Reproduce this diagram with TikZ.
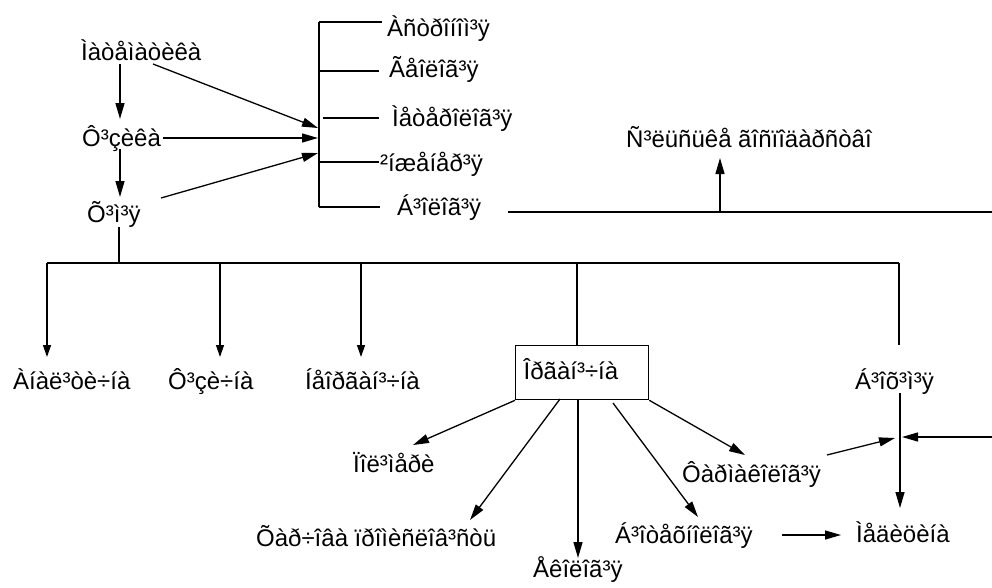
\documentclass[tikz,border=0pt]{standalone}
\usepackage{fontspec}
\setmainfont{Liberation Sans}
\usetikzlibrary{arrows.meta}
\begin{document}
\begin{tikzpicture}[x=1pt,y=-1pt,
  lbl/.style={anchor=base west,inner sep=0pt,font=\fontsize{24}{28}\selectfont},
  ln/.style={line width=1.3pt},
  arr/.style={line width=1.3pt,-{Triangle[length=16pt,width=9pt]}},
  arrs/.style={line width=1.3pt,-{Triangle[length=12pt,width=8pt]}},
  boxnode/.style={draw,line width=1.3pt,anchor=north west,minimum width=133pt,minimum height=54pt,
    text width=117pt,inner xsep=8pt,inner ysep=0pt,align=left,text height=16pt,text depth=2pt,
    font=\fontsize{24}{28}\selectfont}]
\useasboundingbox (0,0) rectangle (992,587);
% labels
\node[lbl] (mat)   at (81,60)   {Ìàòåìàòèêà};
\node[lbl] (fiz)   at (82,146)  {Ô³çèêà};
\node[lbl] (him)   at (87,222)  {Õ³ì³ÿ};
\node[lbl] (astr)  at (387,36)  {Àñòðîíîì³ÿ};
\node[lbl] (geol)  at (389,77)  {Ãåîëîã³ÿ};
\node[lbl] (met)   at (392,126) {Ìåòåðîëîã³ÿ};
\node[lbl] (inzh)  at (380,171) {²íæåíåð³ÿ};
\node[lbl] (biol)  at (397,215) {Á³îëîã³ÿ};
\node[lbl] (silg)  at (626,147) {Ñ³ëüñüêå ãîñïîäàðñòâî};
\node[lbl] (anal)  at (13,389)  {Àíàë³òè÷íà};
\node[lbl] (fizch) at (168,389) {Ô³çè÷íà};
\node[lbl] (neorg) at (305,389) {Íåîðãàí³÷íà};
\node[boxnode] (org) at (515,345) {Îðãàí³÷íà};
\node[lbl] (bioh)  at (855,389) {Á³îõ³ì³ÿ};
\node[lbl] (pol)   at (353,472) {Ïîë³ìåðè};
\node[lbl] (harch) at (256,546) {Õàð÷îâà ïðîìèñëîâ³ñòü};
\node[lbl] (ekol)  at (533,577) {Åêîëîã³ÿ};
\node[lbl] (biot)  at (615,543) {Á³îòåõíîëîã³ÿ};
\node[lbl] (farm)  at (682,482) {Ôàðìàêîëîã³ÿ};
\node[lbl] (med)   at (856,542) {Ìåäèöèíà};
% coordinates
\coordinate (brT) at (319,22);
\coordinate (brB) at (319,207);
\coordinate (brA) at (318,128);
\coordinate (brF) at (318,138);
\coordinate (brH) at (318,153);
\coordinate (busL) at (47,263);
\coordinate (busH) at (119,263);
\coordinate (busF) at (220,263);
\coordinate (busN) at (361,263);
\coordinate (busO) at (577,263);
\coordinate (busR) at (899,263);
\coordinate (rEdge) at (992,437);
\coordinate (sgL) at (508,212);
\coordinate (sgR) at (992,212);
\coordinate (sgA) at (720,212);
% bracket
\draw[ln] (brT) -- (brB);
\draw[ln] (brT) -- (382,22);
\draw[ln] (319,71) -- (379,71);
\draw[ln] (323,118) -- (379,118);
\draw[ln] (319,162) -- (379,162);
\draw[ln] (brB) -- (380,207);
% arrows into bracket
\draw[arr] (153,64) -- (brA);
\draw[arr] (163,138) -- (brF);
\draw[arr] (161,198) -- (brH);
% vertical chain
\draw[arr] (120,64) -- (120,119);
\draw[arr] (120,149) -- (120,197);
\draw[ln] (119,227) -- (busH);
% bus
\draw[ln] (busL) -- (busR);
\draw[arrs] (busL) -- (47,357);
\draw[arrs] (busF) -- (220,357);
\draw[arrs] (busN) -- (361,357);
\draw[ln] (busO) -- (org.north -| busO);
\draw[ln] (busR) -- (899,345);
% agriculture
\draw[ln] (sgL) -- (sgR);
\draw[arr] (sgA) -- (720,158);
% organic box arrows
\draw[arr] (org.south west) -- (413,445);
\draw[arr] (560,399) -- (470,520);
\draw[arr] (578,399) -- (578,558);
\draw[arr] (613,403) -- (698,517);
\draw[arr] (org.south east) -- (745,455);
% right side
\draw[arr] (900,393) -- (900,508);
\draw[arr] (rEdge) -- (902,437);
\draw[arr] (827,455) -- (895,438);
\draw[arr] (782,535) -- (841,535);
\end{tikzpicture}
\end{document}
